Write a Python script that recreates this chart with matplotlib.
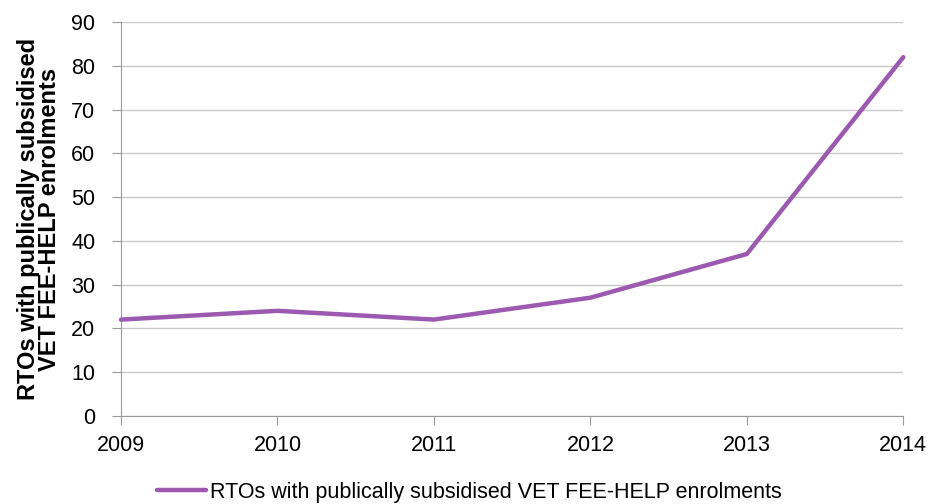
import matplotlib
matplotlib.use('Agg')
import matplotlib.pyplot as plt

plt.rcParams['font.family'] = ['Liberation Sans', 'DejaVu Sans']

years = [2009, 2010, 2011, 2012, 2013, 2014]
rto_counts = [22, 24, 22, 27, 37, 82]
series_label = 'RTOs with publically subsidised VET FEE-HELP enrolments'

fig = plt.figure(figsize=(9.38, 5.04), dpi=100)
ax = fig.add_axes([0.129, 0.175, 0.834, 0.781])

ax.grid(axis='y', color='#c8c8c8', linewidth=1, zorder=1)
ax.plot(years, rto_counts, color='#9b59b0', linewidth=3.2, label=series_label,
        solid_capstyle='round', zorder=3, clip_on=False)

ax.set_xlim(2009, 2014)
ax.set_ylim(0, 90)
ax.set_yticks(range(0, 91, 10))
ax.set_xticks(years)

for side in ['top', 'right']:
    ax.spines[side].set_visible(False)
for side in ['left', 'bottom']:
    ax.spines[side].set_color('#9a9a9a')
ax.tick_params(axis='both', colors='#9a9a9a', labelcolor='black', length=6.5, labelsize=15.5)
ax.tick_params(axis='y', pad=12)
ax.tick_params(axis='x', pad=7)

ax.set_ylabel('RTOs with publically subsidised\nVET FEE-HELP enrolments',
              fontsize=17, fontweight='bold', linespacing=0.9, labelpad=7)

ax.legend(loc='upper center', bbox_to_anchor=(0.445, -0.118), frameon=False,
          fontsize=15.5, handlelength=2.3, handletextpad=0.15)

fig.savefig('out.png', dpi=100)
